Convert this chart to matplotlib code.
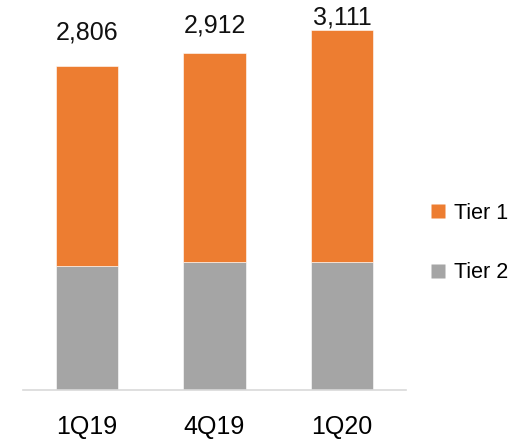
import matplotlib
matplotlib.use("Agg")
import matplotlib.pyplot as plt
from matplotlib.lines import Line2D

plt.rcParams['font.family'] = ['Liberation Sans Narrow', 'Liberation Sans', 'DejaVu Sans']

quarters = ['1Q19', '4Q19', '1Q20']
tier2 = [1075, 1110, 1110]
totals = [2806, 2912, 3111]
tier1 = [t - b for t, b in zip(totals, tier2)]
label_gap = [21, 16, 1]  # px between bar top and value label

orange = '#ED7D31'
grey = '#A5A5A5'

fig = plt.figure(figsize=(5.26, 4.42), dpi=100)
ax = fig.add_axes([0.0437, 0.1176, 0.728, 0.8824])

x = range(len(quarters))
ax.bar(x, tier2, width=0.49, color=grey, edgecolor='white', linewidth=0.4)
ax.bar(x, tier1, bottom=tier2, width=0.49, color=orange, edgecolor='white', linewidth=0.4)

for i, (tot, gap) in enumerate(zip(totals, label_gap)):
    ax.annotate(f'{tot:,}', (i, tot), xytext=(0, gap * 0.72), textcoords='offset points',
                ha='center', va='bottom', fontsize=18, color='#111111')

ax.set_xlim(-0.5, 2.5)
ax.set_ylim(0, 3374)
ax.set_yticks([])
ax.set_xticks(list(x))
ax.set_xticklabels(quarters, fontsize=18)
ax.tick_params(axis='x', length=0, pad=18)
for s in ['top', 'left', 'right']:
    ax.spines[s].set_visible(False)
ax.spines['bottom'].set_color('#d9d9d9')
ax.spines['bottom'].set_linewidth(1.2)

handles = [Line2D([], [], marker='s', color='none', markerfacecolor=orange, markeredgecolor='none', markersize=10),
           Line2D([], [], marker='s', color='none', markerfacecolor=grey, markeredgecolor='none', markersize=10)]
fig.legend(handles, ['Tier 1', 'Tier 2'], loc='center left', bbox_to_anchor=(0.78, 0.45),
           frameon=False, fontsize=15.5, labelspacing=1.8, handlelength=0.8, handletextpad=0.35)

fig.savefig('out.png', dpi=100)
